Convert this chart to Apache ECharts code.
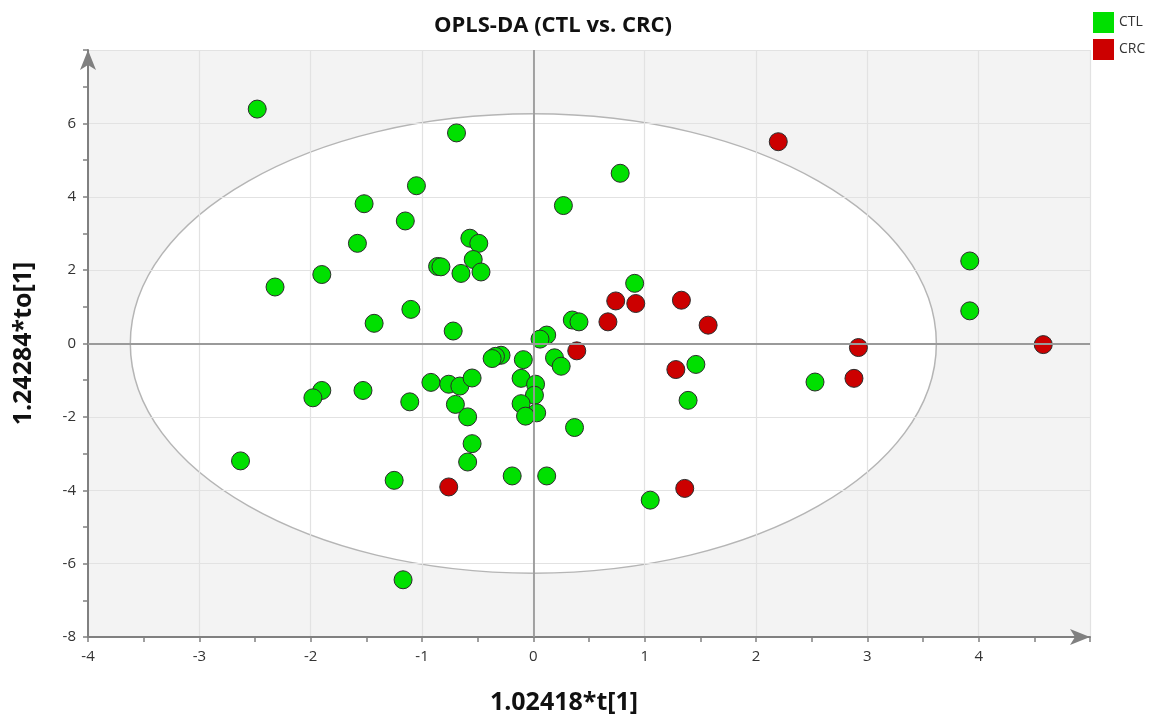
<!DOCTYPE html>
<html>
<head>
<meta charset="utf-8">
<script src="https://cdn.jsdelivr.net/npm/echarts@6/dist/echarts.min.js"></script>
<style>html,body{margin:0;padding:0;background:#fff;}#main{width:1153px;height:715px;}</style>
</head>
<body>
<div id="main"></div>
<script>
// ---- data ----
const titleText = 'OPLS-DA (CTL vs. CRC)';
const xName = '1.02418*t[1]';
const yName = '1.24284*to[1]';
const seriesNames = ['CTL', 'CRC'];
const ctlPoints = [
  [-2.48, 6.39], [-0.69, 5.74], [0.78, 4.64], [-1.05, 4.30], [0.27, 3.76],
  [-1.52, 3.81], [-1.15, 3.34], [-0.57, 2.87], [-0.49, 2.73], [-1.58, 2.73],
  [-0.54, 2.29], [-0.86, 2.10], [-0.83, 2.09], [-0.65, 1.91], [-0.47, 1.95],
  [-1.90, 1.88], [-2.32, 1.54], [0.91, 1.64], [-1.10, 0.93], [-1.43, 0.55],
  [-0.72, 0.34], [0.35, 0.64], [0.41, 0.59], [0.12, 0.23], [0.06, 0.12],
  [-0.29, -0.32], [-0.34, -0.35], [-0.37, -0.41], [-0.09, -0.44], [0.19, -0.39],
  [0.25, -0.62], [-0.92, -1.06], [-0.76, -1.11], [-0.66, -1.16], [-0.55, -0.94],
  [-0.11, -0.95], [0.02, -1.11], [0.01, -1.41], [-1.11, -1.59], [-0.70, -1.66],
  [-0.11, -1.64], [-0.59, -2.00], [0.03, -1.89], [-0.07, -1.98], [0.37, -2.29],
  [-0.55, -2.73], [-0.59, -3.23], [1.46, -0.57], [1.39, -1.55], [-1.90, -1.28],
  [-1.98, -1.48], [-1.53, -1.28], [-2.63, -3.20], [-1.25, -3.73], [-0.19, -3.61],
  [0.12, -3.61], [1.05, -4.27], [-1.17, -6.44], [3.92, 2.25], [3.92, 0.89],
  [2.53, -1.05]
];
const crcPoints = [
  [2.20, 5.50], [0.74, 1.16], [0.92, 1.09], [1.33, 1.18], [0.67, 0.59],
  [1.57, 0.50], [0.39, -0.20], [1.28, -0.71], [2.92, -0.11], [2.88, -0.95],
  [4.58, -0.03], [-0.76, -3.91], [1.36, -3.95]
];
// Hotelling T2 ellipse: centre and semi-axes in data units
const ellipseCenter = [0, 0];
const ellipseRadii = [3.62, 6.26];
const xRange = [-4, 5];
const yRange = [-8, 8];

const chart = echarts.init(document.getElementById('main'), null, {renderer: 'canvas'});
const FONT = 'Open Sans';
const axisCommon = {
  type: 'value',
  interval: 1,
  z: 2,
  axisLine: { show: true, onZero: false, lineStyle: { color: '#808080', width: 2 }, symbol: ['none', 'arrow'], symbolSize: [12, 20] },
  axisTick: { show: true, length: 5, lineStyle: { color: '#808080', width: 1.5 } },
  minorTick: { show: true, splitNumber: 2, length: 5, lineStyle: { color: '#808080', width: 1.5 } },
  splitLine: { show: true, lineStyle: { color: '#e2e2e2', width: 1.2 } },
  axisLabel: { color: '#333', fontSize: 15, fontFamily: FONT, showMaxLabel: false },
  nameLocation: 'middle',
  nameTextStyle: { color: '#111', fontSize: 25, fontWeight: 'bold', fontFamily: FONT }
};

chart.setOption({
  animation: false,
  backgroundColor: '#fff',
  title: {
    text: titleText, left: 434, top: 15, padding: 0,
    textStyle: { fontSize: 22, fontWeight: 'bold', color: '#111', fontFamily: FONT }
  },
  legend: {
    data: seriesNames, orient: 'vertical', left: 1093, top: 12, padding: 0,
    icon: 'rect', itemWidth: 21, itemHeight: 21, itemGap: 6,
    itemStyle: { borderWidth: 0 },
    textStyle: { color: '#333', fontSize: 14, fontFamily: FONT }
  },
  grid: {
    left: 88, right: 63, top: 50, bottom: 78, containLabel: false, outerBoundsMode: 'none',
    show: true, backgroundColor: '#f3f3f3', borderWidth: 0
  },
  xAxis: Object.assign({}, axisCommon, {
    min: xRange[0], max: xRange[1], name: xName, nameGap: 53,
    axisLabel: Object.assign({}, axisCommon.axisLabel, { margin: 12 }),
    nameTextStyle: Object.assign({}, axisCommon.nameTextStyle, { padding: [0, 50, 0, 0] })
  }),
  yAxis: Object.assign({}, axisCommon, {
    interval: 2, min: yRange[0], max: yRange[1], name: yName, nameGap: 52,
    axisLabel: Object.assign({}, axisCommon.axisLabel, { margin: 12 })
  }),
  series: [
    {
      type: 'custom', name: 'ellipse', z: 1, silent: true,
      data: [ellipseCenter],
      renderItem: function (params, api) {
        const c = api.coord(ellipseCenter);
        const s = api.size(ellipseRadii);
        return {
          type: 'ellipse',
          shape: { cx: c[0], cy: c[1], rx: s[0], ry: s[1] },
          style: { fill: '#ffffff', stroke: '#b5b5b5', lineWidth: 1.5 }
        };
      }
    },
    {
      type: 'scatter', name: 'zero', z: 3, silent: true, data: [],
      markLine: {
        silent: true, symbol: ['none', 'none'], label: { show: false },
        lineStyle: { color: '#9a9a9a', width: 1.8, type: 'solid' },
        data: [{ xAxis: 0 }, { yAxis: 0 }]
      }
    },
    {
      type: 'scatter', name: seriesNames[0], z: 4, data: ctlPoints, symbolSize: 18,
      itemStyle: { color: '#00e000', borderColor: '#2b2b2b', borderWidth: 1, opacity: 1 }
    },
    {
      type: 'scatter', name: seriesNames[1], z: 4, data: crcPoints, symbolSize: 18,
      itemStyle: { color: '#cc0000', borderColor: '#2b2b2b', borderWidth: 1, opacity: 1 }
    }
  ]
});
</script>
</body>
</html>
